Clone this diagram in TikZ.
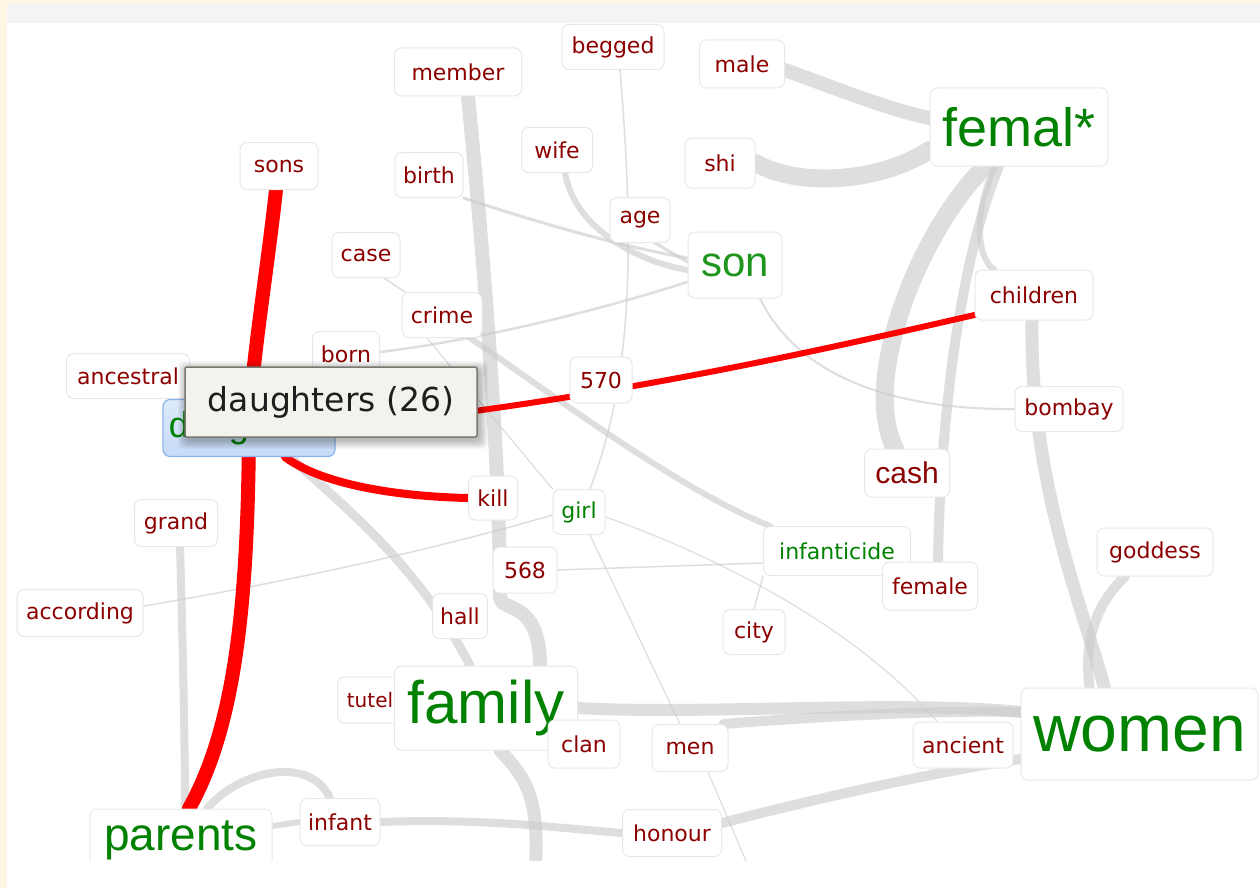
\documentclass[tikz,border=0pt]{standalone}
\usepackage{fontspec}
\setmainfont{DejaVu Sans}
\newfontfamily\arialf{Liberation Sans}
\definecolor{lab}{RGB}{140,0,0}
\definecolor{grn}{RGB}{0,130,0}
\definecolor{songrn}{RGB}{30,150,30}
\definecolor{edgegray}{RGB}{205,205,205}
\definecolor{boxline}{RGB}{232,232,232}
\definecolor{cream}{RGB}{255,247,228}
\definecolor{band}{RGB}{244,244,244}
\pgfdeclarelayer{bgl}
\pgfdeclarelayer{edges}
\pgfdeclarelayer{topl}
\pgfsetlayers{bgl,edges,main,topl}
\tikzset{
  wbox/.style={draw=boxline, fill=white, rounded corners=7pt, line width=1pt, inner sep=0pt},
  sm/.style={wbox, text=lab, font=\fontsize{22}{26}\selectfont},
  gn/.style={wbox, text=grn, font=\fontsize{22}{26}\selectfont},
  bigw/.style={wbox, text=grn},
  ge/.style={draw=edgegray, opacity=0.65, line cap=round},
  re/.style={draw=red, line cap=round},
  shadowbox/.style={fill=black, opacity=0.03, rounded corners=6pt},
}
\begin{document}
\begin{tikzpicture}[x=1pt,y=-1pt]
\useasboundingbox (0,0) rectangle (1260,888);
\begin{pgfonlayer}{bgl}
  \fill[white] (0,0) rectangle (1260,888);
  \fill[band] (7,4) rectangle (1260,23);
\end{pgfonlayer}

% ---------- nodes ----------
\node[sm, minimum width=127, minimum height=48] (member) at (458,72) {member};
\node[sm, minimum width=102, minimum height=45] (begged) at (613,47) {begged};
\node[sm, minimum width=85, minimum height=48] (male) at (742,64) {male};
\node[sm, minimum width=78, minimum height=47] (sons) at (279,166) {sons};
\node[sm, minimum width=68, minimum height=45] (birth) at (429,175) {birth};
\node[sm, minimum width=71, minimum height=45] (wife) at (557,150) {wife};
\node[sm, minimum width=70, minimum height=50] (shi) at (720,163) {shi};
\node[sm, minimum width=60, minimum height=45] (age) at (640,220) {age};
\node[sm, minimum width=68, minimum height=45] (case) at (366,255) {case};
\node[sm, minimum width=80, minimum height=45] (crime) at (442,315) {crime};
\node[sm, minimum width=67, minimum height=45] (born) at (346,354) {born};
\node[sm, minimum width=123, minimum height=45] (ancestral) at (128,376) {ancestral};
\node[sm, minimum width=62, minimum height=46] (n570) at (601,380) {570};
\node[sm, minimum width=118, minimum height=50] (children) at (1034,295) {children};
\node[sm, minimum width=108, minimum height=45] (bombay) at (1069,409) {bombay};
\node[sm, minimum width=85, minimum height=48, font=\arialf\fontsize{30}{34}\selectfont] (cash) at (907,473) {cash};
\node[sm, minimum width=49, minimum height=44] (kill) at (493,498) {kill};
\node[gn, minimum width=52, minimum height=45] (girl) at (579,512) {girl};
\node[sm, minimum width=83, minimum height=47] (grand) at (176,523) {grand};
\node[gn, minimum width=147, minimum height=49] (infanticide) at (837,551) {infanticide};
\node[sm, minimum width=116, minimum height=48] (goddess) at (1155,552) {goddess};
\node[sm, minimum width=64, minimum height=46] (n568) at (525,570) {568};
\node[sm, minimum width=95, minimum height=48] (female) at (930,586) {female};
\node[sm, minimum width=126, minimum height=47] (according) at (80,613) {according};
\node[sm, minimum width=55, minimum height=45] (hall) at (460,616) {hall};
\node[sm, minimum width=62, minimum height=45] (city) at (754,632) {city};
\node[sm, minimum width=65, minimum height=46, font=\fontsize{20}{24}\selectfont] (tutel) at (370,700) {tutel};
\node[sm, minimum width=76, minimum height=47] (men) at (690,748) {men};
\node[sm, minimum width=100, minimum height=46] (ancient) at (963,745) {ancient};
\node[sm, minimum width=80, minimum height=47] (infant) at (340,822) {infant};
\node[sm, minimum width=99, minimum height=47] (honour) at (672,833) {honour};

\node[bigw, minimum width=178, minimum height=78, font=\arialf\fontsize{54}{60}\selectfont] (femal) at (1019,127) {femal*};
\node[bigw, text=songrn, minimum width=94, minimum height=66, font=\arialf\fontsize{42}{48}\selectfont] (son) at (735,265) {son};
\node[bigw, minimum width=183, minimum height=84, font=\arialf\fontsize{60}{66}\selectfont] (family) at (486,708) {family};
\node[sm, minimum width=72, minimum height=48] (clan) at (584,744) {clan};
\node[bigw, minimum width=237, minimum height=92, font=\arialf\fontsize{66}{72}\selectfont] (women) at (1139.5,734) {women};
\node[bigw, minimum width=182, minimum height=62, font=\arialf\fontsize{46}{52}\selectfont] (parents) at (181,840) {parents};

\node[draw={rgb,255:red,140;green,180;blue,236}, top color={rgb,255:red,222;green,234;blue,251},
      bottom color={rgb,255:red,198;green,219;blue,247}, rounded corners=7pt, line width=1.2pt,
      minimum width=172, minimum height=57, inner sep=0pt, text=grn,
      font=\arialf\fontsize{36}{40}\selectfont] (daughters) at (249,428) {daughters};

% soft shadow of the tooltip
\foreach \s in {1,...,9} {
  \fill[shadowbox] (187-\s,370-\s) rectangle (479+\s,440+\s);
}
\node[draw={rgb,255:red,120;green,120;blue,110}, fill={rgb,255:red,243;green,242;blue,236},
      line width=1.5pt, rounded corners=2pt, minimum width=292, minimum height=70, inner sep=0pt,
      font=\fontsize{33}{38}\selectfont, text={rgb,255:red,30;green,30;blue,30}]
      (tip) at (331,402) {daughters (26)};

\coordinate (famdown) at (535,875);
\coordinate (mendown) at (752,875);

% ---------- edges ----------
\begin{pgfonlayer}{edges}
  % gray
  \draw[ge, line width=14pt] ([xshift=10pt]member.south) .. controls (488,300) and (500,480) .. (500,598)
        .. controls (502,612) and (540,600) .. ([xshift=54pt]family.north);
  \draw[ge, line width=13pt] ([xshift=14pt]family.south) .. controls (528,780) and (540,800) .. (famdown);
  \draw[ge, line width=9pt] ([xshift=41pt]daughters.south) .. controls (360,520) and (420,570) .. ([xshift=-16pt]family.north);
  \draw[ge, line width=8pt] ([xshift=4pt]grand.south) .. controls (183,650) and (185,750) .. ([xshift=4pt]parents.north);
  \draw[ge, line width=8pt] ([xshift=26pt]parents.north) .. controls (240,770) and (310,755) .. ([xshift=-10pt]infant.north);
  \draw[ge, line width=6pt] ([yshift=14pt]parents.east) -- (infant.west);
  \draw[ge, line width=8pt] (infant.east) .. controls (480,818) and (560,828) .. (honour.west);
  \draw[ge, line width=10pt] ([yshift=10pt]honour.east) .. controls (850,790) and (950,770) .. ([yshift=-25pt]women.west);
  \draw[ge, line width=12pt] (family.east) .. controls (700,715) and (900,700) .. ([yshift=22pt]women.west);
  \draw[ge, line width=10pt] ([xshift=-5pt]men.north east) .. controls (800,718) and (920,710) .. ([yshift=22pt]women.west);
  \draw[ge, line width=18pt] ([xshift=-34pt]femal.south) .. controls (920,230) and (860,380) .. ([xshift=-12pt]cash.north);
  \draw[ge, line width=10pt] ([xshift=-20pt]femal.south) .. controls (960,260) and (940,420) .. ([xshift=8pt]female.north);
  \draw[ge, line width=6pt] ([xshift=-24pt]femal.south) .. controls (970,220) and (980,262) .. ([xshift=20pt]children.north west);
  \draw[ge, line width=13pt] ([xshift=-2pt]children.south) .. controls (1030,480) and (1080,600) .. ([xshift=-35pt]women.north);
  \draw[ge, line width=10pt] ([xshift=-30pt]goddess.south) .. controls (1090,610) and (1085,650) .. ([xshift=-50pt]women.north);
  \draw[ge, line width=14pt] ([yshift=-6pt]male.east) .. controls (840,90) and (890,110) .. ([yshift=9pt]femal.west);
  \draw[ge, line width=18pt] (shi.east) .. controls (800,188) and (880,182) .. ([yshift=-23pt]femal.west);
  \draw[ge, line width=6pt] ([xshift=8pt]wife.south) .. controls (575,230) and (640,262) .. ([yshift=-5pt]son.west);
  \draw[ge, line width=3pt] (birth.south east) .. controls (560,230) and (640,250) .. ([yshift=7pt]son.west);
  \draw[ge, line width=3pt] ([xshift=15pt]age.south) -- ([yshift=3pt]son.west);
  \draw[ge, line width=1.5pt] ([xshift=7pt]begged.south) .. controls (635,250) and (632,380) .. ([xshift=11pt]girl.north);
  \draw[ge, line width=2.5pt] ([yshift=2pt]born.east) .. controls (480,340) and (600,310) .. ([yshift=-17pt]son.west);
  \draw[ge, line width=1.5pt] ([xshift=18pt]case.south) -- ([xshift=-37pt]crime.north);
  \draw[ge, line width=1.2pt] ([xshift=-15pt]crime.south) -- (girl.north west);
  \draw[ge, line width=6pt] ([xshift=28pt]crime.south) .. controls (560,400) and (680,490) .. ([xshift=-67pt]infanticide.north);
  \draw[ge, line width=2pt] ([xshift=25pt]son.south) .. controls (800,380) and (900,410) .. (bombay.west);
  \draw[ge, line width=1.5pt] ([yshift=7pt]according.east) .. controls (300,580) and (450,545) .. ([yshift=-3pt]girl.west);
  \draw[ge, line width=1.5pt] (n568.east) -- ([yshift=-12pt]infanticide.west);
  \draw[ge, line width=1.2pt] ([yshift=-5pt]girl.east) .. controls (700,550) and (850,620) .. ([xshift=-26pt]ancient.north);
  \draw[ge, line width=1.2pt] ([xshift=11pt]girl.south) -- ([xshift=-10pt]men.north);
  \draw[ge, line width=1.2pt] ([xshift=18pt]men.south) -- (mendown);
  \draw[ge, line width=1.5pt] (infanticide.south west) -- (city.north);
  % red
  \draw[re, line width=14pt] ([xshift=-3pt]sons.south) .. controls (266,280) and (252,360) .. (daughters.center)
        .. controls (248,600) and (236,725) .. ([xshift=8pt]parents.north);
  \draw[re, line width=8pt] ([xshift=36pt]daughters.south) .. controls (330,490) and (420,497) .. (kill.west);
  \draw[re, line width=6pt] (daughters.east) .. controls (600,400) and (800,355) .. ([yshift=-20pt]children.west);
\end{pgfonlayer}

\begin{pgfonlayer}{topl}
  \fill[white] (7,861) rectangle (1260,888);
  \fill[cream] (0,0) rectangle (7,888);
  \fill[cream] (0,0) rectangle (1260,4);
\end{pgfonlayer}
\end{tikzpicture}
\end{document}
